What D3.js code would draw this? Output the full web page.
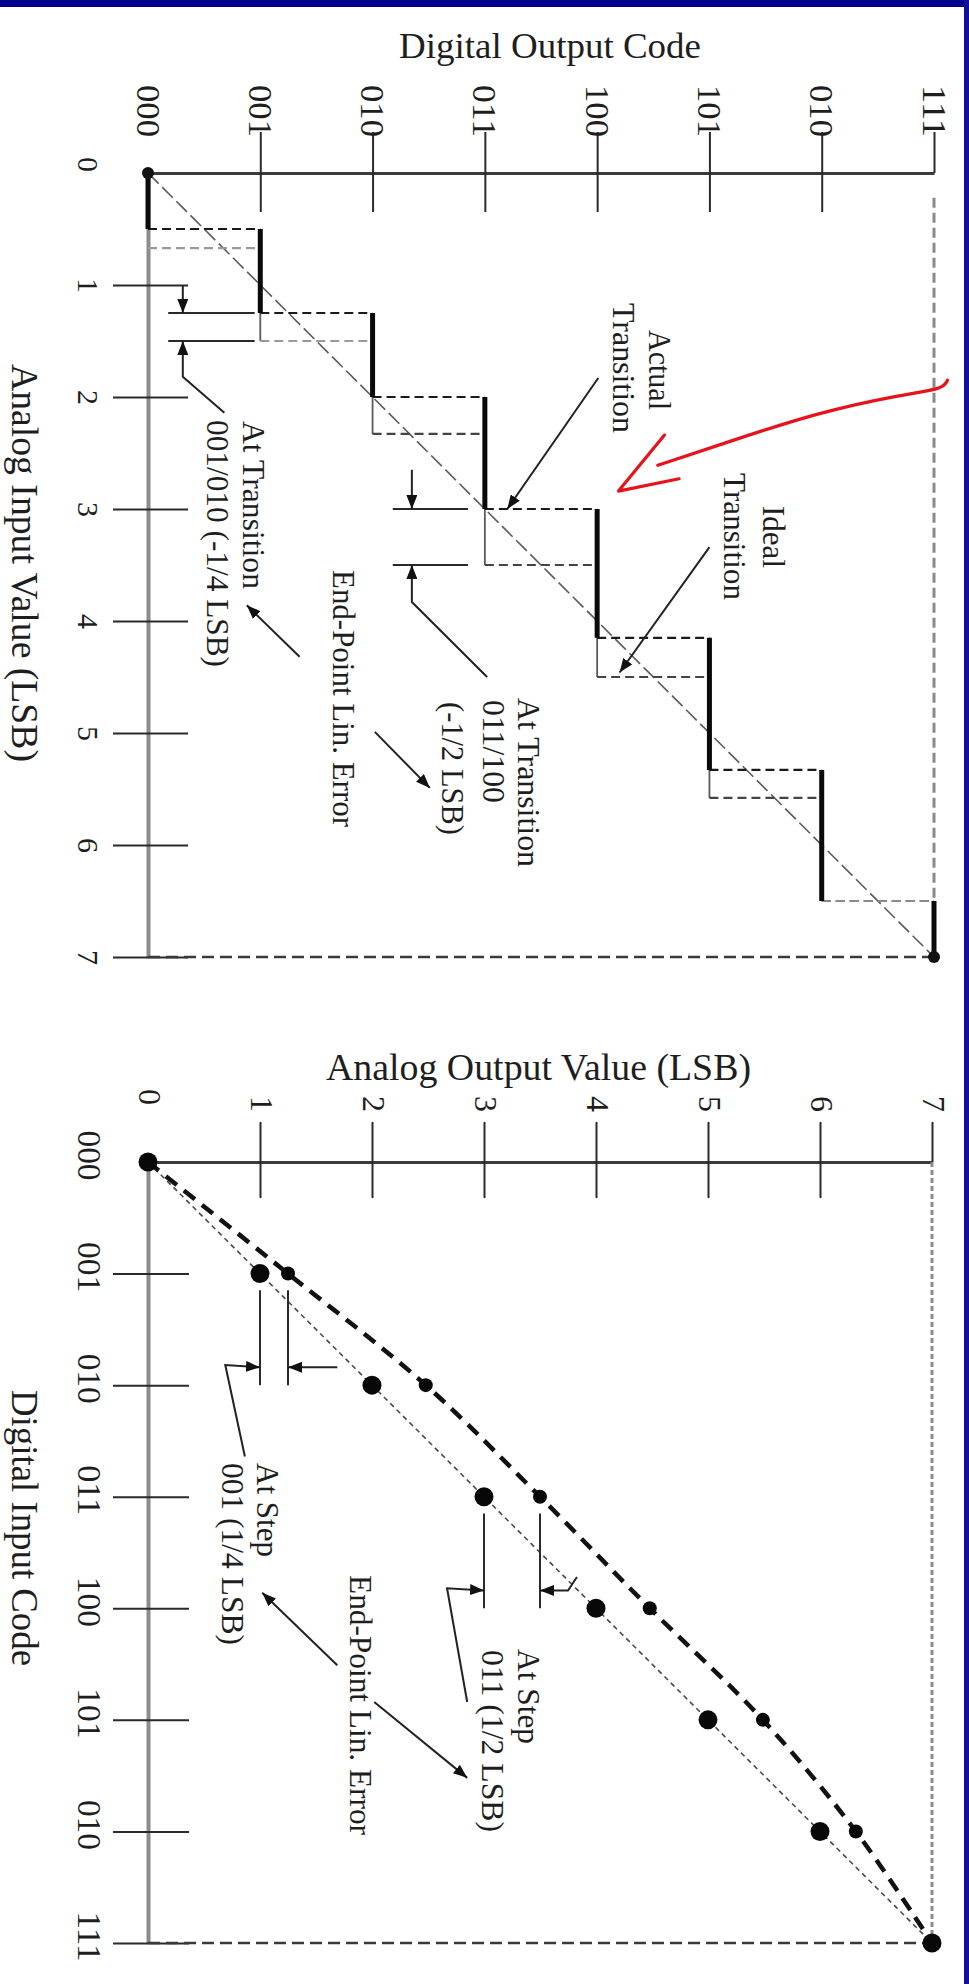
<!DOCTYPE html>
<html>
<head>
<meta charset="utf-8">
<script src="https://cdn.jsdelivr.net/npm/d3@7"></script>
<style>
  html, body { margin: 0; padding: 0; background: #fff; }
  svg { display: block; }
  text { font-family: "Liberation Serif", "Times New Roman", serif; fill: #1e1e1e; }
</style>
</head>
<body>
<svg id="fig" width="969" height="1984"></svg>
<script>
// ---- data ----
const codeLabels = ["000", "001", "010", "011", "100", "101", "010", "111"];
const lsbLabels = ["0", "1", "2", "3", "4", "5", "6", "7"];
const codeSteps = [0, 1, 2, 3, 4, 5, 6, 7];
// ADC: analog input (LSB) at which the output code steps from k to k+1
const adcActualTransitions = [0.5, 1.25, 2.0, 3.0, 4.15, 5.33, 6.5];
const adcIdealTransitions = [0.67, 1.5, 2.33, 3.5, 4.5, 5.58, 6.5];
// DAC: analog output (LSB) produced for each digital input code
const dacIdealOutput = [0, 1, 2, 3, 4, 5, 6, 7];
const dacActualOutput = [0, 1.25, 2.48, 3.5, 4.48, 5.49, 6.32, 7];

const svg = d3.select("#fig");
const INK = "#222";

// frame
svg.append("rect").attr("x", 0).attr("y", 0).attr("width", 969).attr("height", 7).attr("fill", "#00008f");
svg.append("rect").attr("x", 964).attr("y", 0).attr("width", 5).attr("height", 1984).attr("fill", "#10109a");

const defs = svg.append("defs");
defs.append("marker").attr("id", "ah")
  .attr("viewBox", "0 0 14 11").attr("refX", 14).attr("refY", 5.5)
  .attr("markerWidth", 14).attr("markerHeight", 11)
  .attr("markerUnits", "userSpaceOnUse").attr("orient", "auto")
  .append("path").attr("d", "M0,0L14,5.5L0,11Z").attr("fill", "#111");

function vtext(str, bx, y0, len, size) {
  svg.append("text")
    .attr("transform", `translate(${bx},${y0}) rotate(90)`)
    .attr("font-size", size)
    .attr("textLength", len).attr("lengthAdjust", "spacingAndGlyphs")
    .text(str);
}
function htext(str, x0, by, len, size) {
  svg.append("text").attr("x", x0).attr("y", by)
    .attr("font-size", size)
    .attr("textLength", len).attr("lengthAdjust", "spacingAndGlyphs")
    .text(str);
}
function seg(g, x1, y1, x2, y2, stroke, w, dash) {
  g.append("line").attr("x1", x1).attr("y1", y1).attr("x2", x2).attr("y2", y2)
    .attr("stroke", stroke).attr("stroke-width", w)
    .attr("stroke-dasharray", dash || null);
}
function arrow(g, pts, w) {
  g.append("path").attr("d", d3.line()(pts))
    .attr("fill", "none").attr("stroke", INK).attr("stroke-width", w || 2)
    .attr("marker-end", "url(#ah)");
}

// =====================================================================
// Upper plot: ADC transfer (digital output code vs analog input)
// =====================================================================
const xA = d3.scaleLinear().domain([0, 7]).range([148, 934]);
const yA = d3.scaleLinear().domain([0, 7]).range([173, 957]);
const gA = svg.append("g");

const axTop = gA.append("g").attr("transform", `translate(0,${yA(0)})`)
  .call(d3.axisTop(xA).tickValues(codeSteps).tickFormat(i => codeLabels[i]).tickSizeOuter(0));
axTop.select(".domain").attr("stroke", "#3a3a3a").attr("stroke-width", 3);
axTop.selectAll(".tick line").attr("stroke", "#2a2a2a").attr("stroke-width", 2)
  .attr("y1", d => (d === 0 || d === 7) ? 0 : 39).attr("y2", d => d === 0 ? 0 : -41);
axTop.selectAll(".tick text")
  .attr("x", null).attr("y", null).attr("dy", null)
  .attr("text-anchor", "start").attr("font-size", 33)
  .attr("transform", "translate(-12,-88) rotate(90)")
  .attr("textLength", 52).attr("lengthAdjust", "spacingAndGlyphs");

const axLeftA = gA.append("g").attr("transform", `translate(${xA(0)},0)`)
  .call(d3.axisLeft(yA).tickValues(codeSteps).tickFormat(i => lsbLabels[i]).tickSizeOuter(0));
axLeftA.select(".domain").attr("stroke", "#8c8c8c").attr("stroke-width", 4);
axLeftA.selectAll(".tick line").attr("stroke", "#2a2a2a").attr("stroke-width", 2)
  .attr("x1", d => d === 0 ? 0 : 40).attr("x2", d => d === 0 ? 0 : -35);
axLeftA.selectAll(".tick text")
  .attr("x", null).attr("y", null).attr("dy", null)
  .attr("text-anchor", "middle").attr("font-size", 30)
  .attr("transform", d => `translate(-70,${d === 0 ? -9 : 0}) rotate(90)`);

// frame lines of the transfer box
seg(gA, xA(7), yA(0.22), xA(7), yA(7), "#8a8a8a", 3, "10,5");
seg(gA, xA(0), yA(7), xA(7), yA(7), "#3a3a3a", 2.5, "12,6");
// end-point line
seg(gA, xA(0), yA(0), xA(7), yA(7), "#5a5a5a", 1.6, "15,5");

// ideal code widths (thin) and ideal transitions (dashed)
codeSteps.slice(1).forEach(k => {
  const y0 = yA(adcIdealTransitions[k - 1]);
  const y1 = k < 7 ? yA(adcIdealTransitions[k]) : yA(7);
  seg(gA, xA(k), y0, xA(k), y1, "#5a5a5a", 1.8);
});
adcIdealTransitions.forEach((t, k) => {
  seg(gA, xA(k), yA(t), xA(k + 1), yA(t), k < 2 ? "#9a9a9a" : "#444", 2.2, "9,5");
});
// actual transitions (dashed) and actual code widths (bold)
adcActualTransitions.forEach((t, k) => {
  seg(gA, xA(k), yA(t), xA(k + 1), yA(t), k === 6 ? "#8a8a8a" : "#1a1a1a", 2.2, "9,5");
});
codeSteps.forEach(k => {
  const y0 = k === 0 ? yA(0) : yA(adcActualTransitions[k - 1]);
  const y1 = k === 7 ? yA(7) : yA(adcActualTransitions[k]);
  seg(gA, xA(k), y0, xA(k), y1, "#0a0a0a", 5);
});
gA.append("circle").attr("cx", xA(0)).attr("cy", yA(0)).attr("r", 6).attr("fill", "#111");
gA.append("circle").attr("cx", xA(7)).attr("cy", yA(7)).attr("r", 6).attr("fill", "#111");

// error marker at transition 001/010
seg(gA, xA(0.18), yA(adcActualTransitions[1]), xA(0.95), yA(adcActualTransitions[1]), "#2a2a2a", 2);
seg(gA, xA(0.18), yA(adcIdealTransitions[1]), xA(0.95), yA(adcIdealTransitions[1]), "#2a2a2a", 2);
arrow(gA, [[xA(0.31), yA(1.0)], [xA(0.31), yA(adcActualTransitions[1])]]);
arrow(gA, [[xA(0.68), yA(2.14)], [xA(0.31), yA(1.82)], [xA(0.31), yA(adcIdealTransitions[1])]]);

// error marker at transition 011/100
seg(gA, xA(2.18), yA(adcActualTransitions[3]), xA(2.85), yA(adcActualTransitions[3]), "#2a2a2a", 2);
seg(gA, xA(2.18), yA(adcIdealTransitions[3]), xA(2.85), yA(adcIdealTransitions[3]), "#2a2a2a", 2);
arrow(gA, [[xA(2.35), yA(2.65)], [xA(2.35), yA(adcActualTransitions[3])]]);
arrow(gA, [[xA(3.02), yA(4.5)], [xA(2.35), yA(3.83)], [xA(2.35), yA(adcIdealTransitions[3])]]);

// callout arrows
arrow(gA, [[xA(4.01), yA(1.83)], [xA(3.2), yA(adcActualTransitions[3])]]);
arrow(gA, [[xA(5.0), yA(3.34)], [xA(4.2), yA(4.46)]]);
arrow(gA, [[xA(1.35), yA(4.32)], [xA(0.88), yA(3.86)]]);
arrow(gA, [[xA(2.02), yA(4.99)], [xA(2.51), yA(5.49)]]);

// hand-drawn red pointer
const red = "#e8121b";
gA.append("path")
  .attr("d", d3.line().curve(d3.curveBasis)([
    [xA(7.12), yA(1.85)], [xA(7.08), yA(1.93)], [xA(6.7), yA(1.98)],
    [xA(5.96), yA(2.14)], [xA(5.2), yA(2.39)], [xA(4.54), yA(2.61)]
  ]))
  .attr("fill", "none").attr("stroke", red).attr("stroke-width", 3.2).attr("stroke-linecap", "round");
gA.append("path")
  .attr("d", d3.line()([[xA(4.6), yA(2.34)], [xA(4.19), yA(2.84)], [xA(4.73), yA(2.73)]]))
  .attr("fill", "none").attr("stroke", red).attr("stroke-width", 3.2)
  .attr("stroke-linecap", "round").attr("stroke-linejoin", "round");

// titles and notes
htext("Digital Output Code", 399, 58, 302, 36);
vtext("Analog Input Value (LSB)", 12, 364, 398, 37);
vtext("At Transition", 243, 421, 168, 32);
vtext("001/010 (-1/4 LSB)", 207, 420, 247, 32);
vtext("Actual", 649, 330, 80, 32);
vtext("Transition", 613, 303, 130, 32);
vtext("Ideal", 763, 506, 62, 32);
vtext("Transition", 724, 473, 127, 32);
vtext("At Transition", 518, 698, 169, 32);
vtext("011/100", 483, 700, 103, 32);
vtext("(-1/2 LSB)", 442, 702, 133, 32);
vtext("End-Point Lin. Error", 333, 570, 257, 32);

// =====================================================================
// Lower plot: DAC transfer (analog output vs digital input code)
// =====================================================================
const xB = d3.scaleLinear().domain([0, 7]).range([148, 932]);
const yB = d3.scaleLinear().domain([0, 7]).range([1162, 1943]);
const gB = svg.append("g");

const axTopB = gB.append("g").attr("transform", `translate(0,${yB(0)})`)
  .call(d3.axisTop(xB).tickValues(codeSteps).tickFormat(i => lsbLabels[i]).tickSizeOuter(0));
axTopB.select(".domain").attr("stroke", "#3a3a3a").attr("stroke-width", 3);
axTopB.selectAll(".tick line").attr("stroke", "#2a2a2a").attr("stroke-width", 2)
  .attr("y1", d => (d === 0 || d === 7) ? 0 : 36).attr("y2", d => d === 0 ? 0 : -40);
axTopB.selectAll(".tick text")
  .attr("x", null).attr("y", null).attr("dy", null)
  .attr("text-anchor", "middle").attr("font-size", 32)
  .attr("transform", d => `translate(-10,${d === 0 ? -65 : -58}) rotate(90)`);

const axLeftB = gB.append("g").attr("transform", `translate(${xB(0)},0)`)
  .call(d3.axisLeft(yB).tickValues(codeSteps).tickFormat(i => codeLabels[i]).tickSizeOuter(0));
axLeftB.select(".domain").attr("stroke", "#8c8c8c").attr("stroke-width", 4);
axLeftB.selectAll(".tick line").attr("stroke", "#2a2a2a").attr("stroke-width", 2)
  .attr("x1", d => d === 0 ? 0 : 41).attr("x2", d => d === 0 ? 0 : -35);
axLeftB.selectAll(".tick text")
  .attr("x", null).attr("y", null).attr("dy", null)
  .attr("text-anchor", "middle").attr("font-size", 33)
  .attr("transform", "translate(-70,-7) rotate(90)")
  .attr("textLength", 50).attr("lengthAdjust", "spacingAndGlyphs");

seg(gB, xB(7), yB(0), xB(7), yB(7), "#8a8a8a", 3, "5,3");
seg(gB, xB(0), yB(7), xB(7), yB(7), "#3a3a3a", 2.5, "12,6");

const idealPts = dacIdealOutput.map((v, i) => [xB(v), yB(i)]);
const actualPts = dacActualOutput.map((v, i) => [xB(v), yB(i)]);
gB.append("path").attr("d", d3.line()(idealPts))
  .attr("fill", "none").attr("stroke", "#4a4a4a").attr("stroke-width", 1.6).attr("stroke-dasharray", "5,4");
gB.append("path").attr("d", d3.line().curve(d3.curveCatmullRom)(actualPts))
  .attr("fill", "none").attr("stroke", "#111").attr("stroke-width", 4.5).attr("stroke-dasharray", "14,9");

gB.selectAll("circle.ideal").data(idealPts).join("circle").attr("class", "ideal")
  .attr("cx", d => d[0]).attr("cy", d => d[1]).attr("r", 9.5).attr("fill", "#080808");
gB.selectAll("circle.actual").data(actualPts.slice(1, -1)).join("circle").attr("class", "actual")
  .attr("cx", d => d[0]).attr("cy", d => d[1]).attr("r", 7).attr("fill", "#080808");

// error marker at step 001
seg(gB, xB(dacIdealOutput[1]), yB(1.15), xB(dacIdealOutput[1]), yB(2.0), "#2a2a2a", 2);
seg(gB, xB(dacActualOutput[1]), yB(1.15), xB(dacActualOutput[1]), yB(2.0), "#2a2a2a", 2);
arrow(gB, [[xB(0.865), yB(2.64)], [xB(0.69), yB(1.82)], [xB(dacIdealOutput[1]), yB(1.84)]]);
arrow(gB, [[xB(1.69), yB(1.84)], [xB(dacActualOutput[1]), yB(1.84)]]);

// error marker at step 011
seg(gB, xB(dacIdealOutput[3]), yB(3.15), xB(dacIdealOutput[3]), yB(4.0), "#2a2a2a", 2);
seg(gB, xB(dacActualOutput[3]), yB(3.15), xB(dacActualOutput[3]), yB(4.0), "#2a2a2a", 2);
arrow(gB, [[xB(2.85), yB(4.84)], [xB(2.67), yB(3.82)], [xB(dacIdealOutput[3]), yB(3.84)]]);
arrow(gB, [[xB(3.83), yB(3.72)], [xB(3.75), yB(3.84)], [xB(dacActualOutput[3]), yB(3.84)]]);

arrow(gB, [[xB(1.69), yB(4.51)], [xB(1.02), yB(3.86)]]);
arrow(gB, [[xB(2.02), yB(4.84)], [xB(2.85), yB(5.52)]]);

htext("Analog Output Value (LSB)", 326, 1080, 425, 37);
vtext("Digital Input Code", 12, 1390, 276, 37);
vtext("At Step", 257, 1463, 94, 32);
vtext("001 (1/4 LSB)", 222, 1463, 182, 32);
vtext("End-Point Lin. Error", 350, 1575, 260, 32);
vtext("At Step", 518, 1649, 95, 32);
vtext("011 (1/2 LSB)", 482, 1650, 182, 32);
</script>
</body>
</html>
